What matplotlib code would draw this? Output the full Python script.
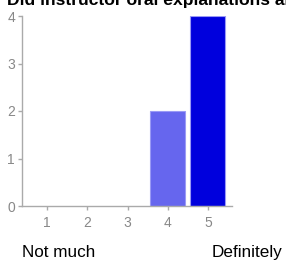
import matplotlib
matplotlib.use("Agg")
import matplotlib.pyplot as plt

categories = [1, 2, 3, 4, 5]
counts = [0, 0, 0, 2, 4]
bar_colors = ["#6666ee", "#6666ee", "#6666ee", "#6666ee", "#0000dd"]
yticks = [0, 1, 2, 3, 4]
title = "Did instructor oral explanations and demonstrations help you?"
low_label = "Not much"
high_label = "Definitely"

plt.rcParams['font.family'] = ['Liberation Sans', 'DejaVu Sans']

W, H = 286, 260
fig = plt.figure(figsize=(W / 100, H / 100), dpi=100)
ax = fig.add_axes([22 / W, (H - 206) / H, (232 - 22) / W, (206 - 16) / H])

for c, v, col in zip(categories, counts, bar_colors):
    if v > 0:
        ax.bar(c, v, width=0.87, color=col, edgecolor="#9a9af5", linewidth=0.8, zorder=2)

ax.set_xlim(0.375, 5.6)
ax.set_ylim(0, 4)
ax.set_xticks(categories)
ax.set_xticklabels([str(c) for c in categories])
ax.set_yticks(yticks)
ax.set_yticklabels([str(t) for t in yticks])

for s in ["top", "right"]:
    ax.spines[s].set_visible(False)
for s in ["left", "bottom"]:
    ax.spines[s].set_color("#aaaaaa")
    ax.spines[s].set_linewidth(1.0)
ax.tick_params(axis="both", colors="#aaaaaa", labelcolor="#888888", labelsize=10,
               length=3, width=1.0, pad=2)
ax.tick_params(axis="x", pad=4.5)

fig.text(7 / W, (H - 4.5) / H, title, fontsize=12.6, fontweight="bold",
         ha="left", va="baseline", color="black")
fig.text(22 / W, 3 / H, low_label, fontsize=12.3, ha="left", va="baseline", color="black")
fig.text(212 / W, 3 / H, high_label, fontsize=12.3, ha="left", va="baseline", color="black")

fig.savefig("out.png", dpi=100)
